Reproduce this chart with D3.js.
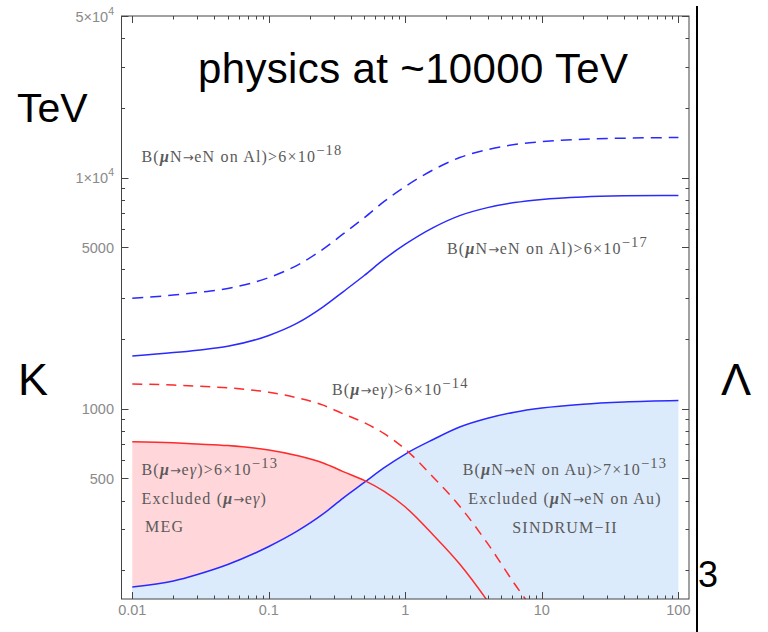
<!DOCTYPE html>
<html><head><meta charset="utf-8">
<script src="https://cdn.jsdelivr.net/npm/d3@7"></script>
<style>body{margin:0;background:#fff}</style>
</head><body><svg id="c" width="768" height="632"></svg>
<script>
// ---- data ----
const xTicks = [0.01, 0.1, 1, 10, 100];
const xTickLabels = ["0.01", "0.1", "1", "10", "100"];
const yTicks = [500, 1000, 5000, 10000, 50000];
const yTickLabels = [["500"], ["1000"], ["5000"], ["1×10", "4"], ["5×10", "4"]];

const curveX    = [0.01, 0.02, 0.03, 0.05, 0.1, 0.16, 0.25, 0.35, 0.5, 0.7, 1, 1.6, 2.5, 4, 6.3, 10, 20, 40, 100];
const alFuture  = [3000, 3100, 3180, 3310, 3690, 4160, 4900, 5700, 6700, 7880, 9150, 10800, 12200, 13200, 13900, 14300, 14650, 14800, 14900];
const alNear    = [1689, 1747, 1790, 1860, 2073, 2337, 2757, 3203, 3766, 4431, 5145, 6070, 6840, 7410, 7790, 8040, 8240, 8330, 8370];
const auSindrum = [169, 179.5, 191.5, 211.5, 253, 294, 350, 410, 479, 555, 636, 735, 832, 908, 965, 1006, 1045, 1068, 1084];

const megX   = [0.01, 0.02, 0.03, 0.05, 0.1, 0.16, 0.25, 0.35, 0.5, 0.7, 1, 1.6, 2.5, 4, 6.3, 8, 10];
const megNow = [719, 711, 703, 692, 662, 627, 582, 534, 489, 438, 375, 284, 212.6, 147, 98.2, 80.5, 65.6];
const megFut = [1278, 1264, 1250, 1230, 1177, 1115, 1035, 949, 869, 779, 667, 505, 378, 261, 174.6, 143, 116.6];

// ---- layout ----
const svg = d3.select("#c");
const frame = {l: 121.5, r: 689, t: 16, b: 599};
const x = d3.scaleLog().domain([0.01, 100]).range([132.3, 678.4]);
const y = d3.scaleLog().domain([150, 50000]).range([599, 16]);

svg.append("defs").append("clipPath").attr("id", "clip")
  .append("rect").attr("x", frame.l).attr("y", frame.t)
  .attr("width", frame.r - frame.l).attr("height", frame.b - frame.t);

const plot = svg.append("g").attr("clip-path", "url(#clip)");
const zip = (xs, ys) => xs.map((v, i) => [v, ys[i]]);
const line = d3.line().x(d => x(d[0])).y(d => y(d[1])).curve(d3.curveMonotoneX);
const area = d3.area().x(d => x(d[0])).y0(frame.b + 5).y1(d => y(d[1])).curve(d3.curveMonotoneX);

const BLUE = "#2a2aff", RED = "#ff2a2a";
plot.append("path").attr("d", area(zip(megX, megNow))).attr("fill", "#ffd6d9");
plot.append("path").attr("d", area(zip(curveX, auSindrum))).attr("fill", "#dcebfc");

plot.append("path").attr("d", line(zip(curveX, alFuture))).attr("fill", "none")
  .attr("stroke", BLUE).attr("stroke-width", 1.5).attr("stroke-dasharray", "11,7");
plot.append("path").attr("d", line(zip(curveX, alNear))).attr("fill", "none")
  .attr("stroke", BLUE).attr("stroke-width", 1.5);
plot.append("path").attr("d", line(zip(curveX, auSindrum))).attr("fill", "none")
  .attr("stroke", BLUE).attr("stroke-width", 1.5);
plot.append("path").attr("d", line(zip(megX, megFut))).attr("fill", "none")
  .attr("stroke", RED).attr("stroke-width", 1.5).attr("stroke-dasharray", "10,7");
plot.append("path").attr("d", line(zip(megX, megNow))).attr("fill", "none")
  .attr("stroke", RED).attr("stroke-width", 1.5);

// ---- frame & ticks ----
const axc = "#444";
svg.append("rect").attr("x", frame.l).attr("y", frame.t)
  .attr("width", frame.r - frame.l).attr("height", frame.b - frame.t)
  .attr("fill", "none").attr("stroke", axc).attr("stroke-width", 1);

const xMinor = [];
[0.01, 0.1, 1, 10].forEach(d => { for (let k = 2; k <= 9; k++) xMinor.push(d * k); });
const yMinor = [];
[100, 1000, 10000].forEach(d => { for (let k = 2; k <= 9; k++) { const v = d * k; if (k !== 5 && v >= 150 && v <= 50000) yMinor.push(v); } });

const tk = svg.append("g").attr("stroke", axc).attr("stroke-width", 1);
function xt(vals, len) {
  vals.forEach(v => {
    const px = Math.round(x(v)) + 0.5;
    tk.append("line").attr("x1", px).attr("x2", px).attr("y1", frame.b).attr("y2", frame.b - len);
    tk.append("line").attr("x1", px).attr("x2", px).attr("y1", frame.t).attr("y2", frame.t + len);
  });
}
function yt(vals, len) {
  vals.forEach(v => {
    const py = Math.round(y(v)) + 0.5;
    tk.append("line").attr("x1", frame.l).attr("x2", frame.l + len).attr("y1", py).attr("y2", py);
    tk.append("line").attr("x1", frame.r).attr("x2", frame.r - len).attr("y1", py).attr("y2", py);
  });
}
xt(xTicks, 7); xt(xMinor, 3.5); yt(yTicks, 7); yt(yMinor, 3.5);

const tickFont = "'Liberation Sans', Arial, sans-serif";
const tcol = "#8a8a8a";
xTicks.forEach((v, i) => {
  svg.append("text").attr("x", x(v)).attr("y", 615).attr("text-anchor", "middle")
    .attr("font-family", tickFont).attr("font-size", 14.5).attr("fill", tcol).text(xTickLabels[i]);
});
yTicks.forEach((v, i) => {
  const t = svg.append("text").attr("x", 114).attr("y", y(v) + 5.5).attr("text-anchor", "end")
    .attr("font-family", tickFont).attr("font-size", 14.5).attr("fill", tcol);
  const parts = yTickLabels[i];
  t.append("tspan").text(parts[0]);
  if (parts[1]) t.append("tspan").attr("dy", -7).attr("font-size", 10.5).text(parts[1]);
});

// ---- annotations ----
const serif = "'Liberation Serif', 'Times New Roman', serif";
function rich(parts, px, py, anchor) {
  const t = svg.append("text").attr("x", px).attr("y", py).attr("text-anchor", anchor || "start")
    .attr("font-family", serif).attr("font-size", 16).attr("letter-spacing", 1.2).attr("fill", "#5a5a5a");
  parts.forEach(([s, k]) => {
    const ts = t.append("tspan").text(s);
    if (k === "mu") ts.attr("font-weight", "bold").attr("font-style", "italic");
    if (k === "it") ts.attr("font-style", "italic");
    if (k === "arr") ts.attr("font-family", "'DejaVu Sans', sans-serif").attr("font-size", 13).attr("letter-spacing", 0.5);
    if (k === "sup") ts.attr("dy", -7).attr("font-size", 14.5);
  });
}
rich([["B(", ""], ["μ", "mu"], ["N", ""], ["→", "arr"], ["eN on Al)>6×10", ""], ["−18", "sup"]], 141.5, 162);
rich([["B(", ""], ["μ", "mu"], ["N", ""], ["→", "arr"], ["eN on Al)>6×10", ""], ["−17", "sup"]], 447, 254);
rich([["B(", ""], ["μ", "mu"], ["→", "arr"], ["e", ""], ["γ", "it"], [")>6×10", ""], ["−14", "sup"]], 332, 395);
rich([["B(", ""], ["μ", "mu"], ["→", "arr"], ["e", ""], ["γ", "it"], [")>6×10", ""], ["−13", "sup"]], 141.5, 475);
rich([["Excluded (", ""], ["μ", "mu"], ["→", "arr"], ["e", ""], ["γ", "it"], [")", ""]], 141.5, 503.5);
rich([["MEG", ""]], 145, 532);
rich([["B(", ""], ["μ", "mu"], ["N", ""], ["→", "arr"], ["eN on Au)>7×10", ""], ["−13", "sup"]], 565, 475, "middle");
rich([["Excluded (", ""], ["μ", "mu"], ["N", ""], ["→", "arr"], ["eN on Au)", ""]], 565, 504, "middle");
rich([["SINDRUM−II", ""]], 565, 533, "middle");

// ---- slide overlay text ----
const sans = "'Liberation Sans', Arial, sans-serif";
svg.append("text").attr("x", 198).attr("y", 83).attr("font-family", sans).attr("font-size", 42).attr("letter-spacing", 0.35).attr("fill", "#000").text("physics at ~10000 TeV");
svg.append("text").attr("x", 17).attr("y", 122).attr("font-family", sans).attr("font-size", 41).attr("fill", "#000").text("TeV");
svg.append("text").attr("x", 18).attr("y", 395).attr("font-family", sans).attr("font-size", 45).attr("fill", "#000").text("K");
svg.append("text").attr("x", 721).attr("y", 395).attr("font-family", sans).attr("font-size", 45).attr("fill", "#000").text("Λ");
svg.append("text").attr("x", 698).attr("y", 587).attr("font-family", sans).attr("font-size", 36).attr("fill", "#000").text("3");
svg.append("line").attr("x1", 697).attr("x2", 697).attr("y1", 6).attr("y2", 632).attr("stroke", "#000").attr("stroke-width", 2);
</script>
</body></html>
